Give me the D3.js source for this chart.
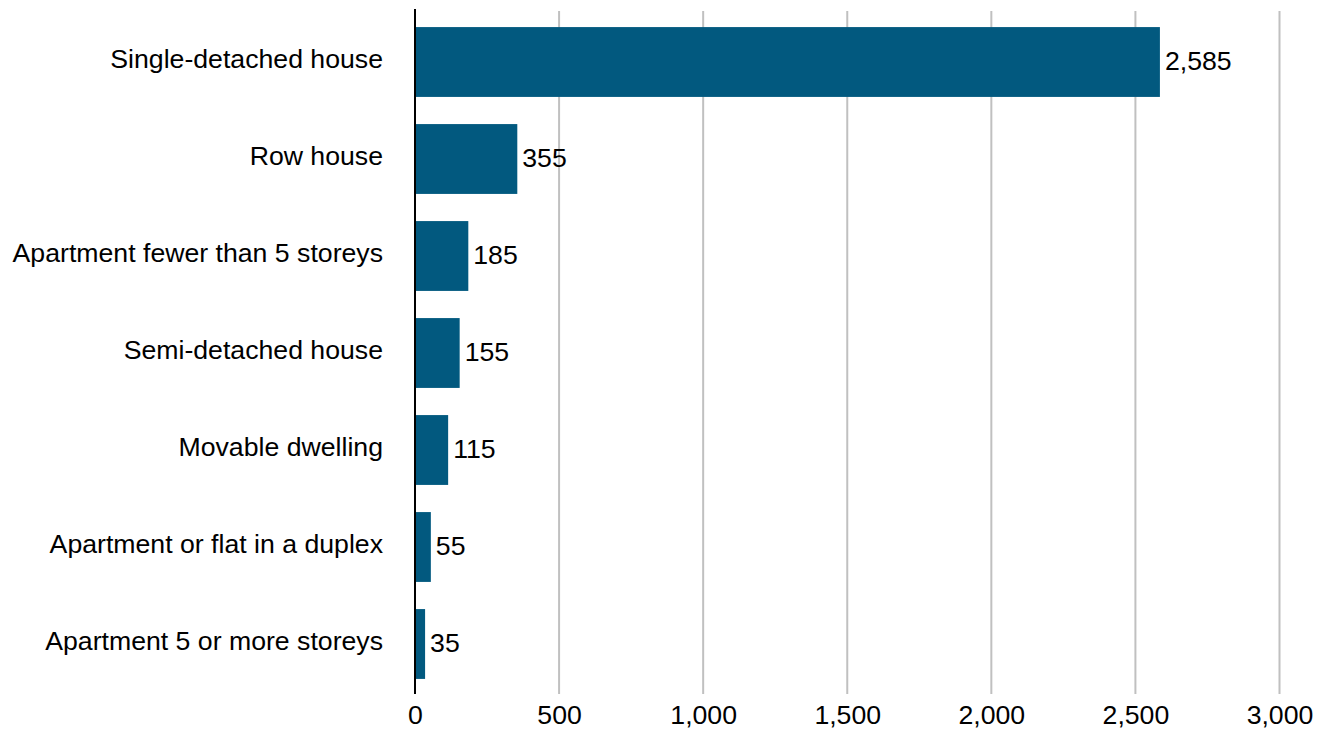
<!DOCTYPE html>
<html><head><meta charset="utf-8">
<script src="https://cdn.jsdelivr.net/npm/d3@7"></script>
<style>body{margin:0;background:#fff}svg{display:block}</style>
</head><body>
<svg id="c" width="1328" height="730"></svg>
<script>
const categories = ["Single-detached house","Row house","Apartment fewer than 5 storeys","Semi-detached house","Movable dwelling","Apartment or flat in a duplex","Apartment 5 or more storeys"];
const values = [2585,355,185,155,115,55,35];
const tickValues = [0,500,1000,1500,2000,2500,3000];

const svg = d3.select("#c");
const font = "'Liberation Sans', Arial, sans-serif";
const fs = 26.67;
const x = d3.scaleLinear().domain([0,3000]).range([415,1279.5]);
const y = d3.scaleBand().domain(categories).range([13.5,692.5]).paddingInner(0.28).paddingOuter(0.14);

// gridlines
svg.append("g").selectAll("line").data(tickValues.filter(d=>d>0)).join("line")
  .attr("x1",d=>x(d)).attr("x2",d=>x(d)).attr("y1",11).attr("y2",694)
  .attr("stroke","#c0c0c0").attr("stroke-width",2);

// bars
svg.append("g").selectAll("rect").data(values).join("rect")
  .attr("x",x(0)).attr("y",(d,i)=>y(categories[i]))
  .attr("width",d=>x(d)-x(0)).attr("height",y.bandwidth())
  .attr("fill","#02597f");

// value labels
svg.append("g").selectAll("text").data(values).join("text")
  .attr("x",d=>x(d)+5).attr("y",(d,i)=>y(categories[i])+y.bandwidth()/2+8)
  .attr("font-family",font).attr("font-size",fs).attr("fill","#000")
  .text(d=>d3.format(",")(d));

// category labels
svg.append("g").selectAll("text").data(categories).join("text")
  .attr("x",383).attr("y",d=>y(d)+y.bandwidth()/2+6)
  .attr("text-anchor","end").attr("font-family",font).attr("font-size",fs).attr("fill","#000")
  .text(d=>d);

// x axis
const xAxis = d3.axisBottom(x).tickValues(tickValues).tickFormat(d3.format(",")).tickSize(0).tickPadding(0);
const gx = svg.append("g").attr("transform","translate(0,724)").call(xAxis);
gx.select(".domain").remove();
gx.selectAll("text").attr("font-family",font).attr("font-size",fs).attr("fill","#000").attr("dy","0");

// vertical axis line
svg.append("line").attr("x1",x(0)).attr("x2",x(0)).attr("y1",9).attr("y2",694)
  .attr("stroke","#000").attr("stroke-width",2);
</script>
</body></html>
